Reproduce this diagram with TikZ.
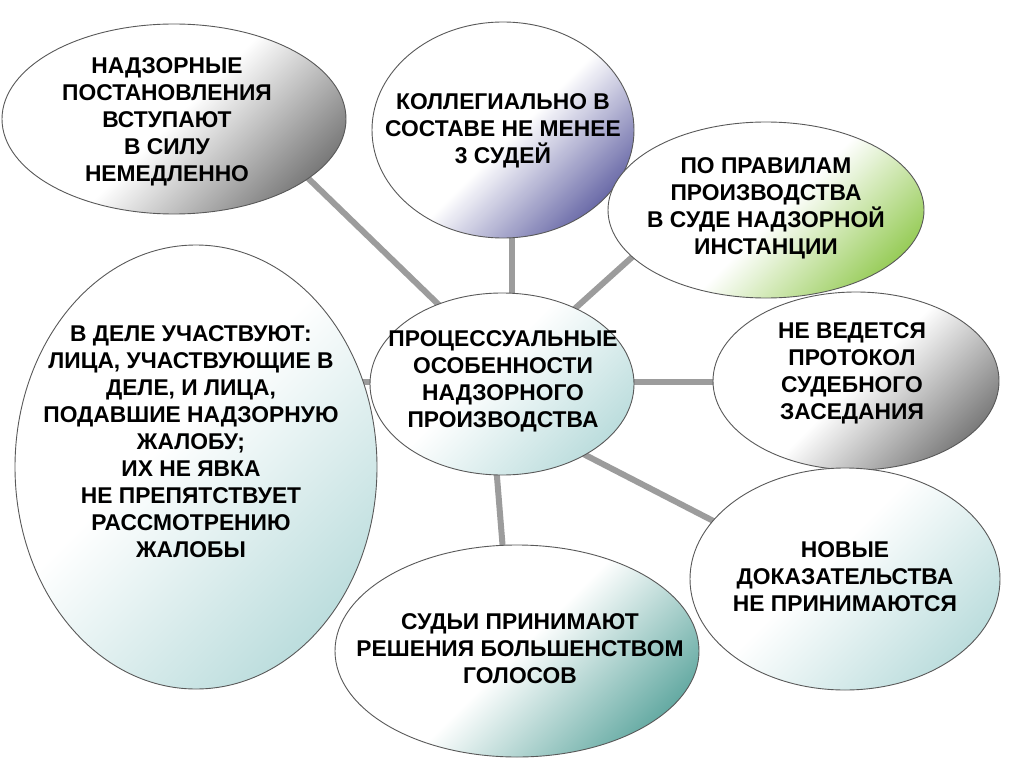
\documentclass[tikz,border=0pt]{standalone}
\usepackage{fontspec}
\setmainfont{Liberation Sans}
\usetikzlibrary{shapes.geometric,calc}
\pgfdeclarelayer{bg}
\pgfdeclarelayer{lines}
\pgfsetlayers{bg,lines,main}
\definecolor{cgrey}{HTML}{5A5A5A}
\definecolor{cblue}{HTML}{3E3E8E}
\definecolor{cgreen}{HTML}{7DBF2E}
\definecolor{cteal}{HTML}{2E8C82}
\definecolor{clight}{HTML}{A6D2D2}
\definecolor{cline}{HTML}{9C9C9C}
\pgfdeclarehorizontalshading{shgrey}{100bp}{color(0bp)=(white); color(50bp)=(white); color(82bp)=(cgrey); color(100bp)=(cgrey)}
\pgfdeclarehorizontalshading{shblue}{100bp}{color(0bp)=(white); color(52bp)=(white); color(82bp)=(cblue); color(100bp)=(cblue)}
\pgfdeclarehorizontalshading{shgreen}{100bp}{color(0bp)=(white); color(52bp)=(white); color(82bp)=(cgreen); color(100bp)=(cgreen)}
\pgfdeclarehorizontalshading{shteal}{100bp}{color(0bp)=(white); color(50bp)=(white); color(85bp)=(cteal); color(100bp)=(cteal)}
\pgfdeclarehorizontalshading{shlight}{100bp}{color(0bp)=(white); color(45bp)=(white); color(85bp)=(clight); color(100bp)=(clight)}
\tikzset{
  bubble/.style={ellipse, draw=black!65, line width=0.9pt, inner sep=0pt, outer sep=0pt, shade, shading angle=-45},
  txt/.style={align=center, font=\fontsize{22.8}{27}\selectfont\bfseries, text=black, inner sep=0pt},
  conn/.style={draw=cline, line width=6pt}
}
\begin{document}
\begin{tikzpicture}[x=1pt,y=-1pt]
\begin{pgfonlayer}{bg}
\useasboundingbox[fill=white] (0,0) rectangle (1024,767);
\end{pgfonlayer}
% bubbles
\node[bubble, shading=shgrey, minimum width=344pt, minimum height=190pt] (tl) at (174,119) {};
\node[bubble, shading=shblue, minimum width=262pt, minimum height=216pt] (tm) at (503,130) {};
\node[bubble, shading=shgreen, minimum width=316pt, minimum height=176pt] (pr) at (766,210) {};
\node[bubble, shading=shgrey, minimum width=286pt, minimum height=178pt] (nv) at (856,381) {};
\node[bubble, shading=shlight, minimum width=264pt, minimum height=182pt] (c) at (502,384) {};
\node[bubble, shading=shlight, minimum width=310pt, minimum height=222pt] (nw) at (845,579) {};
\node[bubble, shading=shteal, minimum width=364pt, minimum height=212pt] (sj) at (517,651) {};
\node[bubble, shading=shlight, minimum width=362pt, minimum height=444pt] (lf) at (196,467) {};
% texts
\node[txt] (tlt) at (167,122) {НАДЗОРНЫЕ\\ПОСТАНОВЛЕНИЯ\\ВСТУПАЮТ\\В СИЛУ\\НЕМЕДЛЕННО};
\node[txt] (tmt) at (503,131) {КОЛЛЕГИАЛЬНО В\\СОСТАВЕ НЕ МЕНЕЕ\\3 СУДЕЙ};
\node[txt] (prt) at (766,208) {ПО ПРАВИЛАМ\\ПРОИЗВОДСТВА\\В СУДЕ НАДЗОРНОЙ\\ИНСТАНЦИИ};
\node[txt] (nvt) at (852,373) {НЕ ВЕДЕТСЯ\\ПРОТОКОЛ\\СУДЕБНОГО\\ЗАСЕДАНИЯ};
\node[txt] (ct) at (503,381) {ПРОЦЕССУАЛЬНЫЕ\\ОСОБЕННОСТИ\\НАДЗОРНОГО\\ПРОИЗВОДСТВА};
\node[txt] (nwt) at (845,577) {НОВЫЕ\\ДОКАЗАТЕЛЬСТВА\\НЕ ПРИНИМАЮТСЯ};
\node[txt] (sjt) at (520,649) {СУДЬИ ПРИНИМАЮТ\\РЕШЕНИЯ БОЛЬШЕНСТВОМ\\ГОЛОСОВ};
\node[txt] (lft) at (191,442) {В ДЕЛЕ УЧАСТВУЮТ:\\ЛИЦА, УЧАСТВУЮЩИЕ В\\ДЕЛЕ, И ЛИЦА,\\ПОДАВШИЕ НАДЗОРНУЮ\\ЖАЛОБУ;\\ИХ НЕ ЯВКА\\НЕ ПРЕПЯТСТВУЕТ\\РАССМОТРЕНИЮ\\ЖАЛОБЫ};
% connectors behind bubbles
\begin{pgfonlayer}{lines}
\draw[conn] ($(tl)+(76,3)$) -- ($(c)+(-32,-49)$);
\draw[conn] ($(tm)+(9,60)$) -- ($(c)+(10,-50)$);
\draw[conn] ($(c)+(58,-62)$) -- ($(pr)+(-86,4)$);
\draw[conn] ($(c)+(60,-2)$) -- ($(nv)+(-60,1)$);
\draw[conn] ($(c)+(58,58)$) -- ($(nw)+(-85,-34)$);
\draw[conn] ($(c)+(-8,56)$) -- ($(sj)+(-10,-51)$);
\draw[conn] ($(c)+(-60,-2)$) -- ($(lf)+(100,-85)$);
\end{pgfonlayer}
\end{tikzpicture}
\end{document}
